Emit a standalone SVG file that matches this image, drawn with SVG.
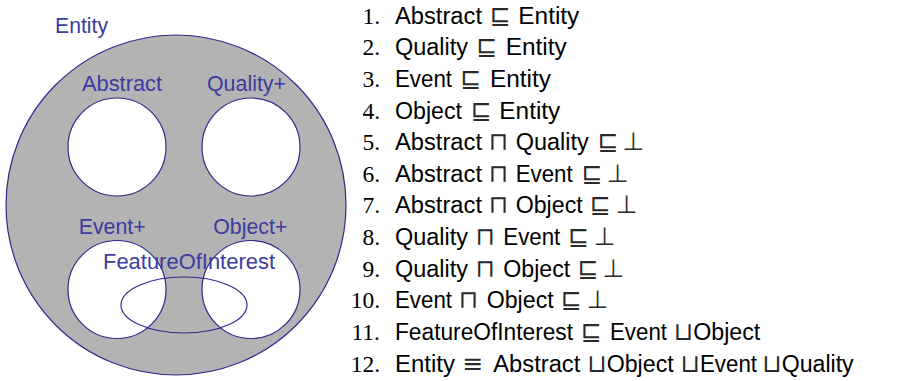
<svg xmlns="http://www.w3.org/2000/svg" width="903" height="381" viewBox="0 0 903 381">
<style>
.c{fill:#fff;stroke:#2e2a8c;stroke-width:1.2}
.lbl{font-family:"Liberation Sans",Arial,sans-serif;font-size:22px;fill:#3c3c9e}
.ax{font-family:"Liberation Sans",Arial,sans-serif;font-size:23.5px;fill:#000}
.num{font-family:"Liberation Serif","Times New Roman",serif;font-size:23.5px;fill:#000;text-anchor:end}
.sym{font-family:"DejaVu Sans",sans-serif;font-size:25px;fill:#2a2a2a;text-anchor:middle}
</style>
<rect width="903" height="381" fill="#fff"/>
<g id="entity">
<circle cx="176" cy="205" r="170" fill="#b4b3b4" stroke="#2e2a8c" stroke-width="1.2"/>
<text class="lbl" x="55" y="33" textLength="53" lengthAdjust="spacingAndGlyphs">Entity</text>
</g>
<g id="abstract">
<circle class="c" cx="117" cy="147" r="49"/>
<text class="lbl" x="82" y="91" textLength="80" lengthAdjust="spacingAndGlyphs">Abstract</text>
</g>
<g id="quality">
<circle class="c" cx="251" cy="147" r="49"/>
<text class="lbl" x="207" y="91" textLength="79" lengthAdjust="spacingAndGlyphs">Quality+</text>
</g>
<g id="event">
<circle class="c" cx="117" cy="289.5" r="49"/>
<text class="lbl" x="78.7" y="234" textLength="67" lengthAdjust="spacingAndGlyphs">Event+</text>
</g>
<g id="object">
<circle class="c" cx="251" cy="289.5" r="49"/>
<text class="lbl" x="213.3" y="234" textLength="74" lengthAdjust="spacingAndGlyphs">Object+</text>
</g>
<g id="featureOfInterest">
<ellipse cx="184" cy="305" rx="63" ry="28" fill="none" stroke="#2e2a8c" stroke-width="1.2"/>
<text class="lbl" x="103" y="269" textLength="172" lengthAdjust="spacingAndGlyphs">FeatureOfInterest</text>
</g>
<g id="connectors"/>
<g id="axioms">
<g id="ax1">
<text class="num" x="380" y="23.5">1.</text>
<text class="ax" x="395" y="23.5" textLength="87" lengthAdjust="spacingAndGlyphs">Abstract</text>
<text class="sym" x="500" y="23.5">⊑</text>
<text class="ax" x="518.3" y="23.5" textLength="61" lengthAdjust="spacingAndGlyphs">Entity</text>
</g>
<g id="ax2">
<text class="num" x="380" y="55.2">2.</text>
<text class="ax" x="395" y="55.2" textLength="73" lengthAdjust="spacingAndGlyphs">Quality</text>
<text class="sym" x="486.5" y="55.2">⊑</text>
<text class="ax" x="505.7" y="55.2" textLength="61" lengthAdjust="spacingAndGlyphs">Entity</text>
</g>
<g id="ax3">
<text class="num" x="380" y="86.8">3.</text>
<text class="ax" x="395" y="86.8" textLength="57" lengthAdjust="spacingAndGlyphs">Event</text>
<text class="sym" x="470.5" y="86.8">⊑</text>
<text class="ax" x="490" y="86.8" textLength="61" lengthAdjust="spacingAndGlyphs">Entity</text>
</g>
<g id="ax4">
<text class="num" x="380" y="118.5">4.</text>
<text class="ax" x="395" y="118.5" textLength="67" lengthAdjust="spacingAndGlyphs">Object</text>
<text class="sym" x="481" y="118.5">⊑</text>
<text class="ax" x="499.3" y="118.5" textLength="61" lengthAdjust="spacingAndGlyphs">Entity</text>
</g>
<g id="ax5">
<text class="num" x="380" y="150.1">5.</text>
<text class="ax" x="395" y="150.1" textLength="87" lengthAdjust="spacingAndGlyphs">Abstract</text>
<text class="sym" x="498.3" y="150.1">⊓</text>
<text class="ax" x="515.7" y="150.1" textLength="73" lengthAdjust="spacingAndGlyphs">Quality</text>
<text class="sym" x="607.7" y="150.1">⊑</text>
<text class="sym" x="633.3" y="150.1">⊥</text>
</g>
<g id="ax6">
<text class="num" x="380" y="181.8">6.</text>
<text class="ax" x="395" y="181.8" textLength="87" lengthAdjust="spacingAndGlyphs">Abstract</text>
<text class="sym" x="498.3" y="181.8">⊓</text>
<text class="ax" x="515.7" y="181.8" textLength="57" lengthAdjust="spacingAndGlyphs">Event</text>
<text class="sym" x="591.7" y="181.8">⊑</text>
<text class="sym" x="617.7" y="181.8">⊥</text>
</g>
<g id="ax7">
<text class="num" x="380" y="213.4">7.</text>
<text class="ax" x="395" y="213.4" textLength="87" lengthAdjust="spacingAndGlyphs">Abstract</text>
<text class="sym" x="498.3" y="213.4">⊓</text>
<text class="ax" x="515.7" y="213.4" textLength="67" lengthAdjust="spacingAndGlyphs">Object</text>
<text class="sym" x="600" y="213.4">⊑</text>
<text class="sym" x="626.7" y="213.4">⊥</text>
</g>
<g id="ax8">
<text class="num" x="380" y="245.1">8.</text>
<text class="ax" x="395" y="245.1" textLength="73" lengthAdjust="spacingAndGlyphs">Quality</text>
<text class="sym" x="485" y="245.1">⊓</text>
<text class="ax" x="503.3" y="245.1" textLength="57" lengthAdjust="spacingAndGlyphs">Event</text>
<text class="sym" x="578.3" y="245.1">⊑</text>
<text class="sym" x="604.7" y="245.1">⊥</text>
</g>
<g id="ax9">
<text class="num" x="380" y="276.7">9.</text>
<text class="ax" x="395" y="276.7" textLength="73" lengthAdjust="spacingAndGlyphs">Quality</text>
<text class="sym" x="485" y="276.7">⊓</text>
<text class="ax" x="503.3" y="276.7" textLength="67" lengthAdjust="spacingAndGlyphs">Object</text>
<text class="sym" x="587.7" y="276.7">⊑</text>
<text class="sym" x="613.3" y="276.7">⊥</text>
</g>
<g id="ax10">
<text class="num" x="380" y="308.4">10.</text>
<text class="ax" x="395" y="308.4" textLength="57" lengthAdjust="spacingAndGlyphs">Event</text>
<text class="sym" x="468.3" y="308.4">⊓</text>
<text class="ax" x="486.7" y="308.4" textLength="67" lengthAdjust="spacingAndGlyphs">Object</text>
<text class="sym" x="571" y="308.4">⊑</text>
<text class="sym" x="597.7" y="308.4">⊥</text>
</g>
<g id="ax11">
<text class="num" x="380" y="340">11.</text>
<text class="ax" x="395" y="340" textLength="178" lengthAdjust="spacingAndGlyphs">FeatureOfInterest</text>
<text class="sym" x="591" y="340">⊑</text>
<text class="ax" x="610" y="340" textLength="57" lengthAdjust="spacingAndGlyphs">Event</text>
<text class="sym" x="683.3" y="340">⊔</text>
<text class="ax" x="693.3" y="340" textLength="67" lengthAdjust="spacingAndGlyphs">Object</text>
</g>
<g id="ax12">
<text class="num" x="380" y="371.7">12.</text>
<text class="ax" x="395" y="371.7" textLength="60" lengthAdjust="spacingAndGlyphs">Entity</text>
<text class="sym" x="473" y="371.7">≡</text>
<text class="ax" x="493.3" y="371.7" textLength="87" lengthAdjust="spacingAndGlyphs">Abstract</text>
<text class="sym" x="596.7" y="371.7">⊔</text>
<text class="ax" x="606.7" y="371.7" textLength="67" lengthAdjust="spacingAndGlyphs">Object</text>
<text class="sym" x="690" y="371.7">⊔</text>
<text class="ax" x="700" y="371.7" textLength="57" lengthAdjust="spacingAndGlyphs">Event</text>
<text class="sym" x="771.7" y="371.7">⊔</text>
<text class="ax" x="781.7" y="371.7" textLength="72" lengthAdjust="spacingAndGlyphs">Quality</text>
</g>
</g>
</svg>
